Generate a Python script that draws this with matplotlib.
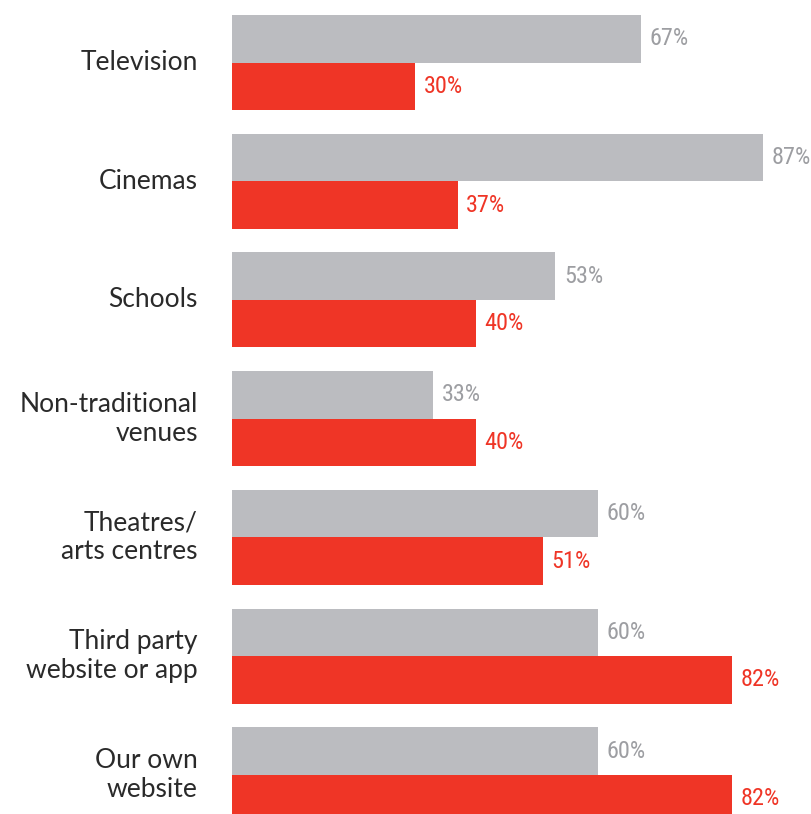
import matplotlib.pyplot as plt

# channels and the share of responses for each
categories = ["Television", "Cinemas", "Schools", "Non-traditional\nvenues",
              "Theatres/\narts centres", "Third party\nwebsite or app", "Our own\nwebsite"]
grey_vals = [67, 87, 53, 33, 60, 60, 60]
red_vals = [30, 37, 40, 40, 51, 82, 82]

grey = "#bbbcc0"
red = "#ef3526"
grey_txt = "#9d9ea2"

fig = plt.figure(figsize=(8.11, 8.14), dpi=100)
ax = fig.add_axes([232 / 811, 0, 1 - 232 / 811, 1])

h = 0.4
ys = list(range(len(categories)))
ax.barh([y - h / 2 for y in ys], grey_vals, height=h, color=grey)
ax.barh([y + h / 2 for y in ys], red_vals, height=h, color=red)

num_font = ["Roboto Condensed", "DejaVu Sans"]
for y, g, r, cat in zip(ys, grey_vals, red_vals, categories):
    ax.text(g + 1.4, y - h / 2, f"{g}%", va="center", ha="left", fontsize=17.5,
            color=grey_txt, family=num_font, stretch="condensed")
    ax.text(r + 1.4, y + h / 2, f"{r}%", va="center", ha="left", fontsize=17.5,
            color=red, family=num_font, stretch="condensed")
    ax.text(-5.6, y, cat, va="center", ha="right",
            fontsize=19, color="#2a2a2a", family="Lato", linespacing=1.2)

ax.set_xlim(0, 579 / 6.1)
ax.set_ylim(6.33, -0.527)
ax.axis("off")

plt.savefig("out.png", dpi=100)
